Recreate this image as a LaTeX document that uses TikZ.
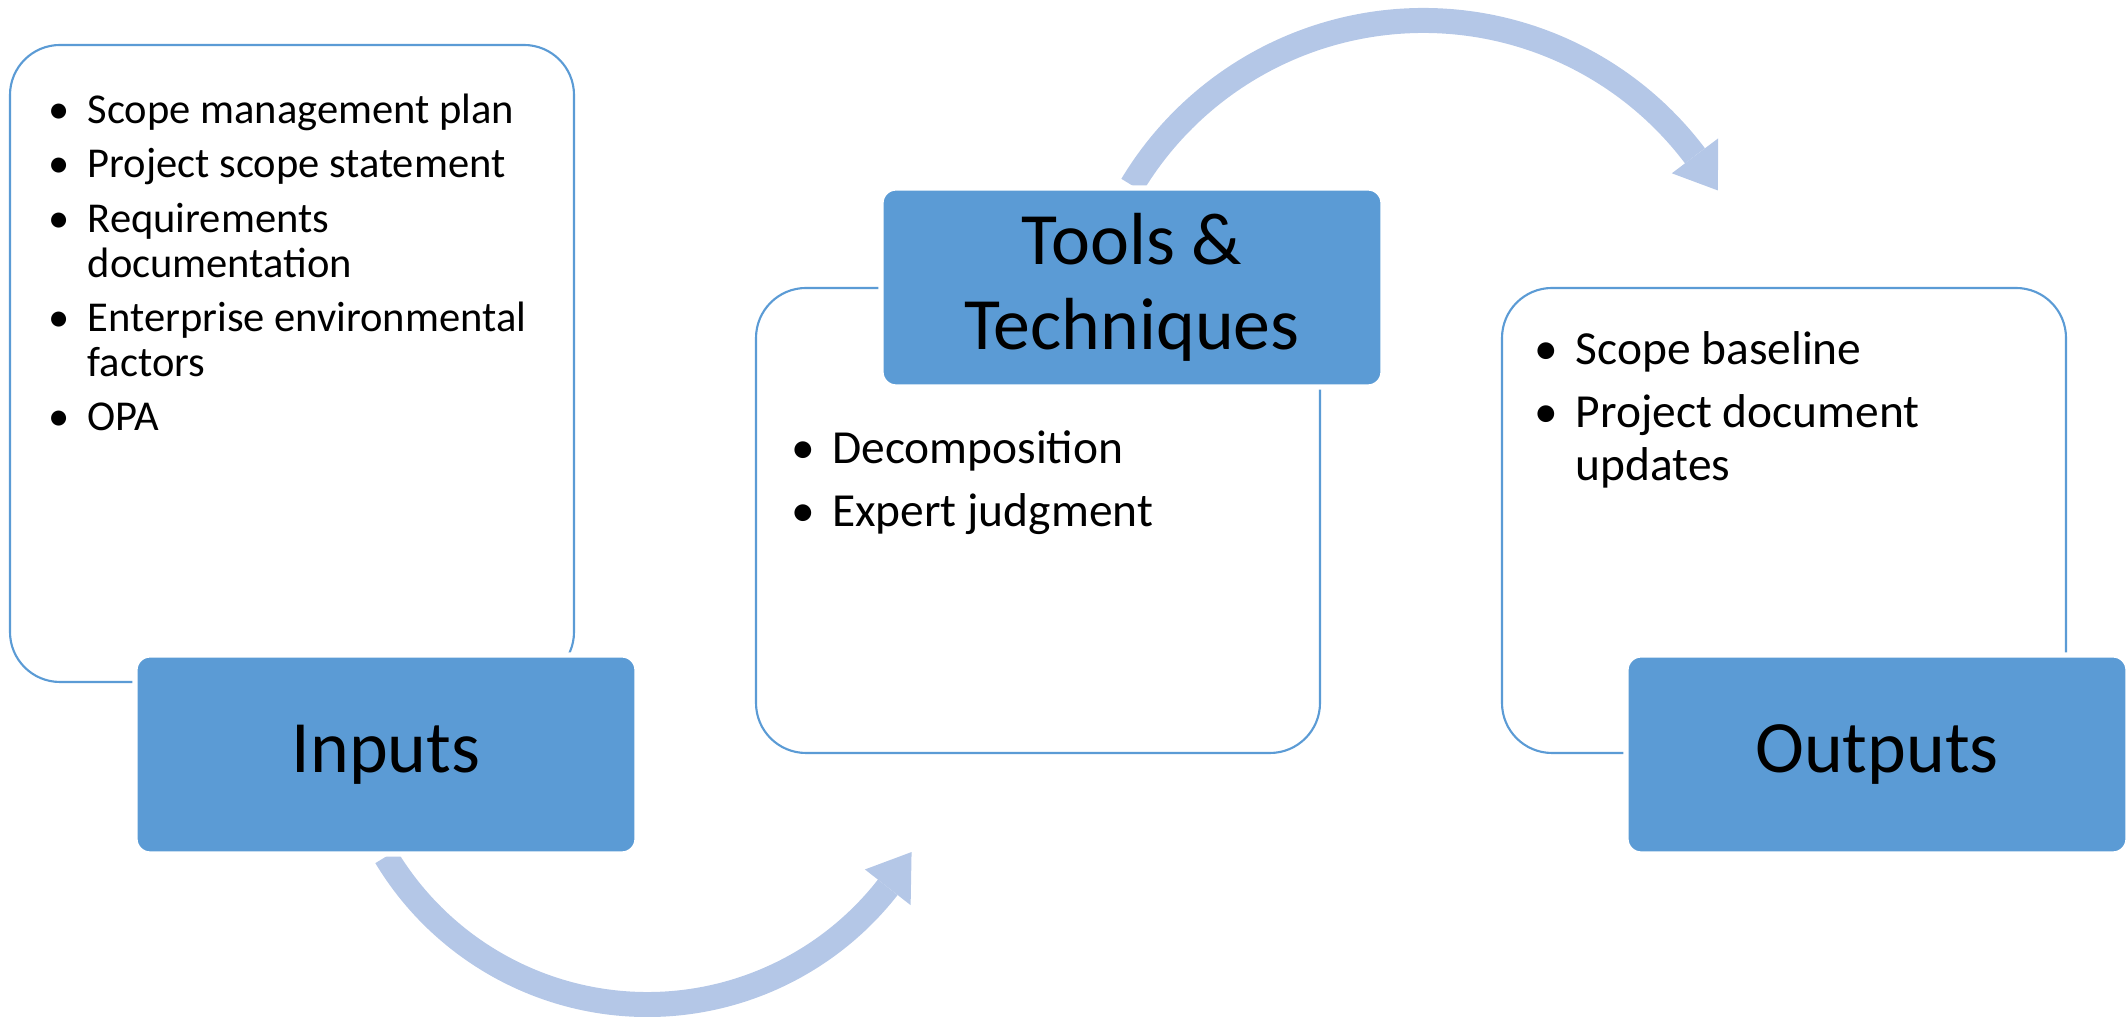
\documentclass[tikz,border=0pt]{standalone}
\usepackage{fontspec}
\setmainfont{Carlito}
\usetikzlibrary{positioning,calc,backgrounds}
\definecolor{boxblue}{RGB}{91,155,213}
\definecolor{arcblue}{RGB}{180,199,231}
\tikzset{
  listbox/.style={draw=boxblue, line width=0.6pt, fill=white, rounded corners=0.5cm, minimum width=5.64cm},
  headbox/.style={draw=white, line width=1.5pt, fill=boxblue, rounded corners=0.15cm,
    minimum width=5.02cm, minimum height=1.99cm, align=center, font=\fontsize{21}{24}\selectfont},
  listtext/.style={anchor=north west, inner sep=0pt, align=left},
  flowarc/.style={draw=arcblue, line width=0.25cm},
  flowtip/.style={fill=arcblue}
}
% bullet, with a 10pt strut so the list top sits 10pt over the first baseline
\newcommand{\bul}{\llap{\textbullet\hspace{5pt}}\rule{0pt}{10pt}}

\begin{document}
\begin{tikzpicture}
  \useasboundingbox (0,0) rectangle (21.27,10.17);
  % white panels
  \node[listbox, minimum height=6.37cm] (inlist) at (2.92,6.535) {};
  \node[listbox, minimum height=4.65cm] (toollist) at (10.38,4.965) {};
  \node[listbox, minimum height=4.65cm] (outlist) at (17.84,4.965) {};
  % blue heads
  \node[headbox] (inputs) at (3.86,2.625) {Inputs};
  \node[headbox] (tools) at (11.32,7.295) {Tools \&\\Techniques};
  \node[headbox] (outputs) at (18.77,2.625) {Outputs};
  % bullet lists
  \node[listtext, font=\fontsize{12.1}{12.8}\selectfont] (intext) at (0.87,9.29)
    {\bul Scope management plan\\[2.6pt]
     \bul Project scope statement\\[2.6pt]
     \bul Requirements\\documentation\\[2.6pt]
     \bul Enterprise environmental\\factors\\[2.6pt]
     \bul OPA};
  \node[listtext, font=\fontsize{13.5}{15.2}\selectfont] (tooltext) at (8.315,5.89)
    {\bul Decomposition\\[2.5pt]
     \bul Expert judgment};
  \node[listtext, font=\fontsize{13.5}{15.2}\selectfont] (outtext) at (15.75,6.88)
    {\bul Scope baseline\\[2.5pt]
     \bul Project document\\updates};
  % curved arrows, behind the boxes
  \begin{scope}[on background layer]
    \coordinate (lowc) at ($(inputs.south)+(31:3.05)$);
    \draw[flowarc] (inputs.south) arc[start angle=211, end angle=322, radius=3.05];
    \fill[flowtip] ($(lowc)+(322:2.76)$) -- ($(lowc)+(322:3.34)$) -- ($(lowc)+(330:3.05)$) -- cycle;
    \coordinate (highc) at ($(tools.north)+(-31:3.40)$);
    \draw[flowarc] (tools.north) arc[start angle=149, end angle=37, radius=3.40];
    \fill[flowtip] ($(highc)+(37:3.11)$) -- ($(highc)+(37:3.69)$) -- ($(highc)+(30:3.40)$) -- cycle;
  \end{scope}
\end{tikzpicture}
\end{document}
